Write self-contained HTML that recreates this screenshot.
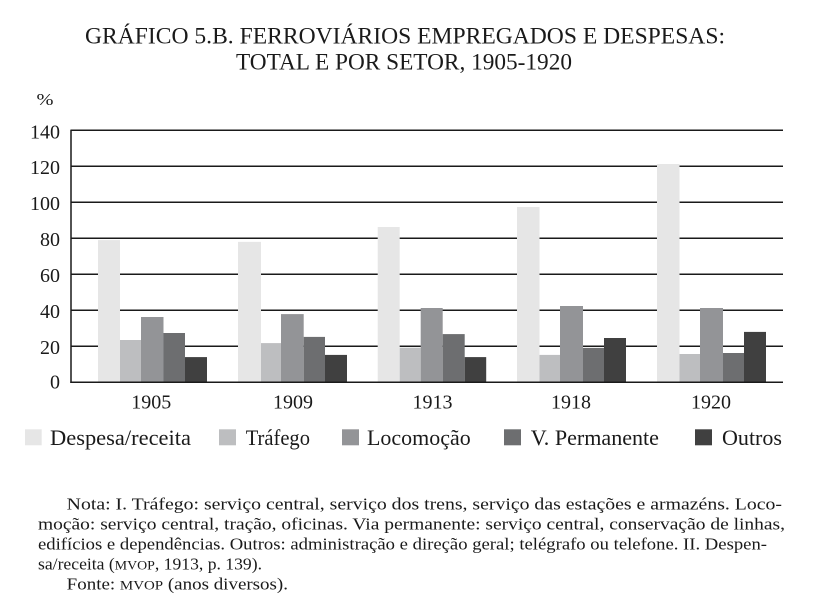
<!DOCTYPE html>
<html>
<head>
<meta charset="utf-8">
<style>
html,body{margin:0;padding:0;background:#fff;}
svg{display:block;}
text{font-family:"Liberation Serif",serif;fill:#1a1a1a;}
</style>
</head>
<body>
<svg width="814" height="616" viewBox="0 0 814 616" xmlns="http://www.w3.org/2000/svg">
<rect x="0" y="0" width="814" height="616" fill="#fff"/>

<!-- Title -->
<text x="85" y="43.5" font-size="23.5" textLength="640" lengthAdjust="spacingAndGlyphs">GRÁFICO 5.B. FERROVIÁRIOS EMPREGADOS E DESPESAS:</text>
<text x="236" y="69.3" font-size="23.5" textLength="336" lengthAdjust="spacingAndGlyphs">TOTAL E POR SETOR, 1905-1920</text>

<!-- % label -->
<text x="36.5" y="105" font-size="17" textLength="17" lengthAdjust="spacingAndGlyphs">%</text>

<!-- Gridlines -->
<g stroke="#1a1a1a" stroke-width="1.5">
<line x1="71" y1="130.3" x2="783" y2="130.3"/>
<line x1="71" y1="166.3" x2="783" y2="166.3"/>
<line x1="71" y1="202.3" x2="783" y2="202.3"/>
<line x1="71" y1="238.3" x2="783" y2="238.3"/>
<line x1="71" y1="274.3" x2="783" y2="274.3"/>
<line x1="71" y1="310.3" x2="783" y2="310.3"/>
<line x1="71" y1="346.3" x2="783" y2="346.3"/>
<line x1="71" y1="129.6" x2="71" y2="383"/>
</g>

<!-- Y tick labels -->
<g font-size="20" text-anchor="end">
<text x="60" y="138.3">140</text>
<text x="60" y="174">120</text>
<text x="60" y="210">100</text>
<text x="60" y="246">80</text>
<text x="60" y="282">60</text>
<text x="60" y="318">40</text>
<text x="60" y="354">20</text>
<text x="60" y="388.3">0</text>
</g>

<!-- Bars -->
<!-- 1905 g=98 -->
<rect x="98" y="240.1" width="22" height="142.2" fill="#e6e6e6"/>
<rect x="120" y="340" width="21" height="42.3" fill="#bdbec0"/>
<rect x="141" y="317" width="22.5" height="65.3" fill="#939497"/>
<rect x="163.5" y="333" width="21.5" height="49.3" fill="#6d6e70"/>
<rect x="185" y="357.1" width="22" height="25.2" fill="#404040"/>
<!-- 1909 g=238 -->
<rect x="238" y="241.9" width="23" height="140.4" fill="#e6e6e6"/>
<rect x="261" y="343.1" width="20" height="39.2" fill="#bdbec0"/>
<rect x="281" y="314.1" width="22.7" height="68.2" fill="#939497"/>
<rect x="303.7" y="336.9" width="21.3" height="45.4" fill="#6d6e70"/>
<rect x="325" y="354.9" width="22" height="27.4" fill="#404040"/>
<!-- 1913 g=377.7 -->
<rect x="377.7" y="227" width="22" height="155.3" fill="#e6e6e6"/>
<rect x="399.7" y="347.7" width="21" height="34.6" fill="#bdbec0"/>
<rect x="420.7" y="308" width="22" height="74.3" fill="#939497"/>
<rect x="442.7" y="334.1" width="22" height="48.2" fill="#6d6e70"/>
<rect x="464.7" y="357.1" width="21.5" height="25.2" fill="#404040"/>
<!-- 1918 g=517 -->
<rect x="517" y="207" width="22.5" height="175.3" fill="#e6e6e6"/>
<rect x="539.5" y="354.9" width="20.5" height="27.4" fill="#bdbec0"/>
<rect x="560" y="306" width="23" height="76.3" fill="#939497"/>
<rect x="583" y="347.9" width="21" height="34.4" fill="#6d6e70"/>
<rect x="604" y="338" width="22" height="44.3" fill="#404040"/>
<!-- 1920 g=657 -->
<rect x="657" y="164" width="22.5" height="218.3" fill="#e6e6e6"/>
<rect x="679.5" y="354" width="20.5" height="28.3" fill="#bdbec0"/>
<rect x="700" y="308" width="23" height="74.3" fill="#939497"/>
<rect x="723" y="353" width="21" height="29.3" fill="#6d6e70"/>
<rect x="744" y="331.9" width="22" height="50.4" fill="#404040"/>

<!-- Baseline -->
<line x1="70.3" y1="382.3" x2="783" y2="382.3" stroke="#1a1a1a" stroke-width="1.5"/>

<!-- X labels -->
<g font-size="20" text-anchor="middle">
<text x="151.3" y="408.3">1905</text>
<text x="293" y="408.3">1909</text>
<text x="432.5" y="408.3">1913</text>
<text x="571" y="408.3">1918</text>
<text x="711" y="408.3">1920</text>
</g>

<!-- Legend -->
<rect x="25" y="429.3" width="16.7" height="16" fill="#e6e6e6"/>
<rect x="219" y="429.3" width="17" height="16" fill="#bdbec0"/>
<rect x="342" y="429.3" width="17" height="16" fill="#939497"/>
<rect x="504" y="429.3" width="17" height="16" fill="#6d6e70"/>
<rect x="695" y="429.3" width="17" height="16" fill="#404040"/>
<g font-size="22.5">
<text x="50" y="445" textLength="141" lengthAdjust="spacingAndGlyphs">Despesa/receita</text>
<text x="245.7" y="445" textLength="64.3" lengthAdjust="spacingAndGlyphs">Tráfego</text>
<text x="367" y="445" textLength="103.7" lengthAdjust="spacingAndGlyphs">Locomoção</text>
<text x="530.7" y="445" textLength="128.3" lengthAdjust="spacingAndGlyphs">V. Permanente</text>
<text x="722" y="445" textLength="60" lengthAdjust="spacingAndGlyphs">Outros</text>
</g>

<!-- Notes -->
<g font-size="16.5">
<text x="66.7" y="509.7" textLength="715.3" lengthAdjust="spacingAndGlyphs">Nota: I. Tráfego: serviço central, serviço dos trens, serviço das estações e armazéns. Loco-</text>
<text x="38" y="529.7" textLength="747" lengthAdjust="spacingAndGlyphs">moção: serviço central, tração, oficinas. Via permanente: serviço central, conservação de linhas,</text>
<text x="38" y="549.3" textLength="729" lengthAdjust="spacingAndGlyphs">edifícios e dependências. Outros: administração e direção geral; telégrafo ou telefone. II. Despen-</text>
<text x="38" y="569.7" textLength="224" lengthAdjust="spacingAndGlyphs">sa/receita (<tspan font-size="13">MVOP</tspan>, 1913, p. 139).</text>
<text x="66.7" y="589.7" textLength="221.3" lengthAdjust="spacingAndGlyphs">Fonte: <tspan font-size="13">MVOP</tspan> (anos diversos).</text>
</g>
</svg>
</body>
</html>
